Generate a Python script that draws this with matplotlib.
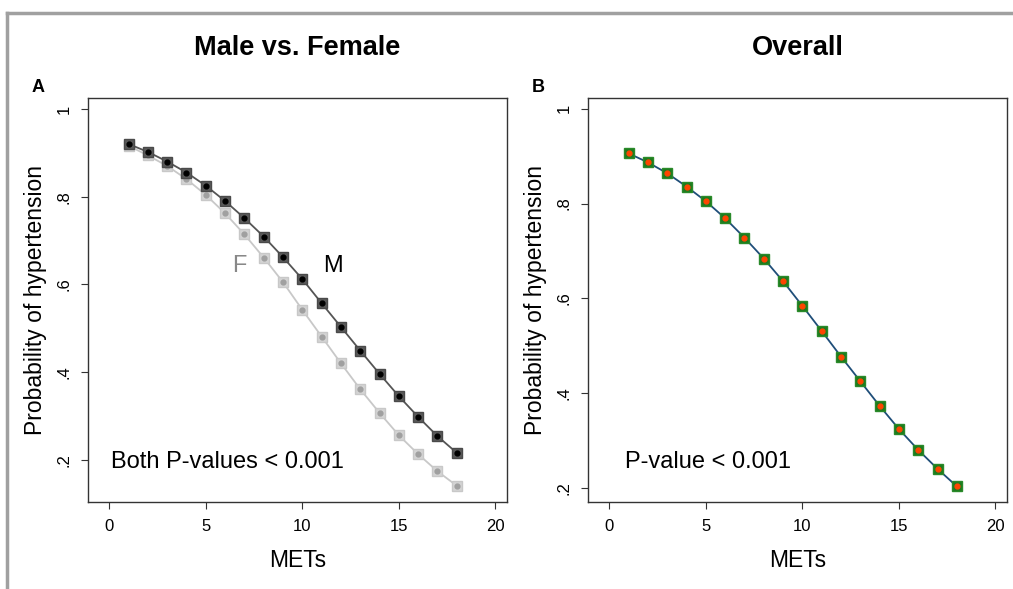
import matplotlib
matplotlib.use('Agg')
import matplotlib.pyplot as plt
from matplotlib.lines import Line2D
import numpy as np

plt.rcParams['font.family'] = ['Liberation Sans', 'DejaVu Sans']

mets = list(range(1, 19))
male = [0.920, 0.902, 0.880, 0.855, 0.825, 0.790, 0.751, 0.709, 0.662,
        0.612, 0.557, 0.503, 0.449, 0.396, 0.345, 0.298, 0.254, 0.216]
female = [0.916, 0.894, 0.870, 0.840, 0.804, 0.762, 0.714, 0.661, 0.605,
          0.542, 0.481, 0.420, 0.361, 0.307, 0.256, 0.213, 0.174, 0.141]
overall = [0.906, 0.887, 0.864, 0.836, 0.805, 0.769, 0.728, 0.684, 0.636,
           0.584, 0.531, 0.477, 0.425, 0.373, 0.324, 0.280, 0.240, 0.203]

xticks = [0, 5, 10, 15, 20]
yticks = [0.2, 0.4, 0.6, 0.8, 1.0]
yticklabels = ['.2', '.4', '.6', '.8', '1']

fig = plt.figure(figsize=(10.13, 5.89), dpi=100)
axA = fig.add_axes([0.0869, 0.1477, 0.4136, 0.686])
axB = fig.add_axes([0.5805, 0.1477, 0.4136, 0.686])

# outer frame (top and left gray lines)
fig.add_artist(Line2D([0.007, 1.0], [0.978, 0.978], color='#a0a0a0', lw=2.5))
fig.add_artist(Line2D([0.007, 0.007], [0.0, 0.978], color='#a0a0a0', lw=2.5))


def style(ax, ylim):
    ax.set_xlim(-1.1, 20.6)
    ax.set_ylim(*ylim)
    ax.set_xticks(xticks)
    ax.set_yticks(yticks)
    ax.set_yticklabels(yticklabels, rotation=90, va='center')
    ax.tick_params(labelsize=12, length=5, color='#333333', pad=7)
    for s in ax.spines.values():
        s.set_color('#333333')
        s.set_linewidth(1)
    ax.set_xlabel('METs', fontsize=16.5, labelpad=11)
    ax.set_ylabel('Probability of hypertension', fontsize=16.5, labelpad=7)


# panel A
axA.plot(mets, female, color='#c8c8c8', lw=1.3, zorder=2)
axA.plot(mets, female, 's', ms=7, color='#d4d4d4', mec='#c8c8c8', zorder=3)
axA.plot(mets, female, 'o', ms=3.5, color='#a0a0a0', mec='#a0a0a0', zorder=4)
axA.plot(mets, male, color='#555555', lw=1.3, zorder=5)
axA.plot(mets, male, 's', ms=7, color='#5a5a5a', mec='#4a4a4a', zorder=6)
axA.plot(mets, male, 'o', ms=3.5, color='black', zorder=7)
style(axA, (0.104, 1.025))
axA.text(6.74, 0.642, 'F', fontsize=17, color='#888888', ha='center', va='center')
axA.text(11.6, 0.642, 'M', fontsize=17, color='black', ha='center', va='center')
axA.text(0.1, 0.195, 'Both P-values < 0.001', fontsize=17, ha='left', va='center')
axA.set_title('Male vs. Female', fontsize=19.5, fontweight='bold', pad=31)
axA.text(-0.119, 1.005, 'A', transform=axA.transAxes, fontsize=13,
         fontweight='bold', ha='center', va='bottom')

# panel B
axB.plot(mets, overall, color='#1f4e79', lw=1.3, zorder=2)
axB.plot(mets, overall, 's', ms=7, color='#1e7a1e', mec='#2a8a2a', zorder=3)
axB.plot(mets, overall, 'o', ms=3.5, color='#ff4500', mec='#ff4500', zorder=4)
style(axB, (0.170, 1.023))
axB.text(0.83, 0.255, 'P-value < 0.001', fontsize=17, ha='left', va='center')
axB.set_title('Overall', fontsize=19.5, fontweight='bold', pad=31)
axB.text(-0.119, 1.005, 'B', transform=axB.transAxes, fontsize=13,
         fontweight='bold', ha='center', va='bottom')

fig.savefig('out.png', dpi=100)
